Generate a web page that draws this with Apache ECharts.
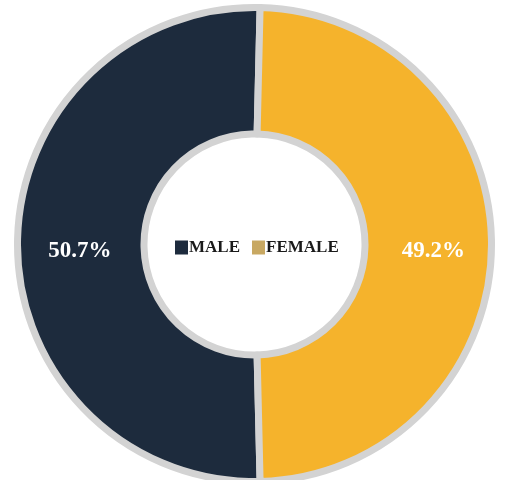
<!DOCTYPE html>
<html>
<head>
<meta charset="utf-8">
<title>Gender split</title>
<script src="https://cdn.jsdelivr.net/npm/echarts@6/dist/echarts.min.js"></script>
<style>
    html, body { margin: 0; padding: 0; background: #fff; }
    #main { width: 506px; height: 480px; }
</style>
</head>
<body>
<div id="main"></div>
<script>
var categories = ['MALE', 'FEMALE'];
var values = [50.7, 49.2];
var sliceColors = ['#1d2b3d', '#f5b32c'];
var legendColors = ['#1d2b3d', '#c8a862'];

var myChart = echarts.init(document.getElementById('main'));

/*两块对称放在竖线两边*/
var total = values[0] + values[1];
var startAngle = 90 - (values[0] - values[1]) / total * 90;

var data = categories.map(function (name, i) {
    return {name: name, value: values[i], itemStyle: {color: sliceColors[i]}};
});

var option = {
    animation: false,
    legend: {
        left: 170,
        top: 234,
        itemWidth: 13,
        itemHeight: 14,
        itemGap: 12,
        icon: 'rect',
        selectedMode: false,
        itemStyle: {borderWidth: 0},
        textStyle: {
            fontFamily: 'Liberation Serif',
            fontWeight: 'bold',
            fontSize: 17,
            color: '#1a1a1a',
            padding: [0, 0, 0, -4]
        },
        data: categories.map(function (name, i) {
            return {name: name, itemStyle: {color: legendColors[i]}};
        })
    },
    series: [{
        type: 'pie',
        center: [254.5, 244.5],
        radius: [110.5, 237],
        clockwise: false,
        startAngle: startAngle,
        avoidLabelOverlap: false,
        emphasis: {disabled: true},
        itemStyle: {
            borderColor: '#d3d3d3',
            borderWidth: 7
        },
        label: {
            show: true,
            position: 'inside',
            offset: [2, 7],
            formatter: function (p) {
                return p.value.toFixed(1) + '%';
            },
            color: '#fff',
            fontFamily: 'Liberation Serif',
            fontWeight: 'bold',
            fontSize: 23
        },
        labelLine: {show: false},
        data: data
    }]
};
myChart.setOption(option);
</script>
</body>
</html>
